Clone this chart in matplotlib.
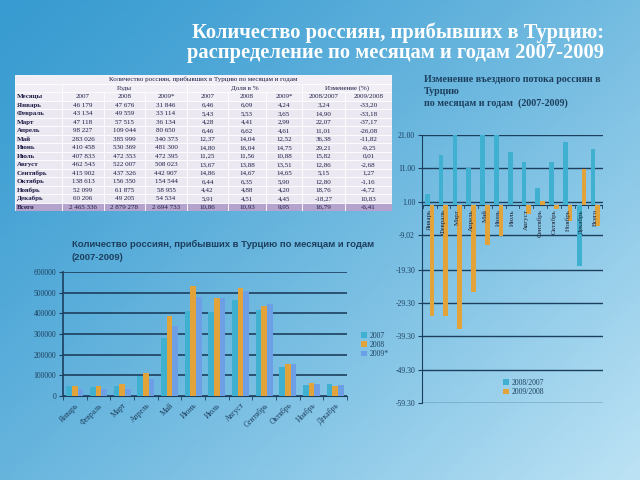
import numpy as np
import matplotlib
matplotlib.use("Agg")
import matplotlib.pyplot as plt
from matplotlib.patches import Rectangle

plt.rcParams['font.family'] = ['Liberation Serif', 'DejaVu Serif']

# --- data ---
months = ['Январь', 'Февраль', 'Март', 'Апрель', 'Май', 'Июнь', 'Июль',
          'Август', 'Сентябрь', 'Октябрь', 'Ноябрь', 'Декабрь']
tourists_2007 = [46179, 43134, 47118, 98227, 283026, 410458, 407833,
                 462543, 415902, 138613, 52099, 60206]
tourists_2008 = [47676, 49559, 57515, 109044, 385999, 530369, 472353,
                 522007, 437326, 156350, 61875, 49205]
tourists_2009 = [31846, 33114, 36134, 80650, 340373, 481300, 472395,
                 508023, 442907, 154544, 58955, 54534]
totals = [2465336, 2879278, 2694733]

share_2007 = [6.46, 5.43, 4.28, 6.46, 12.37, 14.80, 11.25, 13.67, 14.86, 6.44, 4.42, 5.91, 10.86]
share_2008 = [6.09, 5.53, 4.41, 6.62, 14.04, 16.04, 11.56, 13.88, 14.67, 6.35, 4.88, 4.51, 10.93]
share_2009 = [4.24, 3.65, 2.99, 4.61, 12.52, 14.75, 10.88, 13.51, 14.65, 5.90, 4.20, 4.45, 9.95]
change_08_07 = [3.24, 14.90, 22.07, 11.01, 36.38, 29.21, 15.82, 12.86, 5.15, 12.80, 18.76, -18.27, 16.79]
change_09_08 = [-33.20, -33.18, -37.17, -26.08, -11.82, -9.25, 0.01, -2.68, 1.27, -1.16, -4.72, 10.83, -6.41]

change_labels = months + ['Всего']
change_ticks = [21.0, 11.0, 1.0, -9.02, -19.3, -29.3, -39.3, -49.3, -59.3]
change_tick_labels = ['21.00', '11.00', '1.00', '-9.02', '-19.30', '-29.30', '-39.30', '-49.30', '-59.30']

C_TEAL = '#3fb0cf'
C_ORANGE = '#e2a33a'
C_BLUE = '#6c9fe6'
NAVY = '#1d3f5e'

W, H = 640, 480


def box(x0, y0, x1, y1):
    # pixel box (top-left origin) -> figure fraction rect
    return [x0 / W, 1 - y1 / H, (x1 - x0) / W, (y1 - y0) / H]


fig = plt.figure(figsize=(6.4, 4.8), dpi=100)

# slide background gradient
bg = fig.add_axes([0, 0, 1, 1])
gx, gy = np.meshgrid(np.linspace(0, 1, 200), np.linspace(0, 1, 150))
t = np.clip(0.55 * gx + 0.45 * gy, 0, 1) ** 1.3
c0 = np.array([0.22, 0.61, 0.82])
c1 = np.array([0.74, 0.89, 0.96])
img = c0[None, None, :] * (1 - t[..., None]) + c1[None, None, :] * t[..., None]
bg.imshow(img, extent=[0, 1, 0, 1], aspect='auto', origin='upper')
bg.set_xlim(0, 1)
bg.set_ylim(0, 1)
bg.axis('off')

# slide title
fig.text(604 / W, 1 - 33 / H, 'Количество россиян, прибывших в Турцию:',
         ha='right', va='center', color='white', fontsize=14.8, fontweight='bold')
fig.text(604 / W, 1 - 53 / H, 'распределение по месяцам и годам 2007-2009',
         ha='right', va='center', color='white', fontsize=14.8, fontweight='bold')

# --- table ---
tab = fig.add_axes(box(15, 75, 392, 211))
col_edges = [15, 62, 104, 145, 187, 228, 266, 302, 345, 392]
n_rows = 16
tab.set_xlim(col_edges[0], col_edges[-1])
tab.set_ylim(n_rows, 0)
tab.axis('off')
txt_c = '#1c1c44'
fs = 5


def cell(c0, c1, r, text, bold=False, align='center', fc='#ebe8f1'):
    x0, x1 = col_edges[c0], col_edges[c1]
    tab.add_patch(Rectangle((x0, r), x1 - x0, 1, facecolor=fc, edgecolor='white', lw=0.6))
    if align == 'left':
        tab.text(x0 + 2, r + 0.55, text, ha='left', va='center', fontsize=fs,
                 color=txt_c, fontweight='bold' if bold else 'normal')
    else:
        tab.text((x0 + x1) / 2, r + 0.55, text, ha='center', va='center', fontsize=fs,
                 color=txt_c, fontweight='bold' if bold else 'normal')


def fmt_int(v):
    return f'{v:,}'.replace(',', ' ')


def fmt_pct(v):
    return f'{v:.2f}'.replace('.', ',')


cell(0, 9, 0, 'Количество россиян, прибывших в Турцию по месяцам и годам', fc='#f1eff5')
cell(0, 1, 1, '', fc='#f1eff5')
cell(1, 4, 1, 'Годы', fc='#f1eff5')
cell(4, 7, 1, 'Доля в %', fc='#f1eff5')
cell(7, 9, 1, 'Изменение (%)', fc='#f1eff5')
headers = ['Месяцы', '2007', '2008', '2009*', '2007', '2008', '2009*', '2008/2007', '2009/2008']
for j, h in enumerate(headers):
    cell(j, j + 1, 2, h, bold=(j == 0), align='left' if j == 0 else 'center', fc='#f1eff5')

for i, m in enumerate(months):
    r = 3 + i
    row = [fmt_int(tourists_2007[i]), fmt_int(tourists_2008[i]), fmt_int(tourists_2009[i]),
           fmt_pct(share_2007[i]), fmt_pct(share_2008[i]), fmt_pct(share_2009[i]),
           fmt_pct(change_08_07[i]), fmt_pct(change_09_08[i])]
    cell(0, 1, r, m, bold=True, align='left')
    for j, v in enumerate(row):
        cell(j + 1, j + 2, r, v)

r = 15
tot_row = [fmt_int(totals[0]), fmt_int(totals[1]), fmt_int(totals[2]),
           fmt_pct(share_2007[12]), fmt_pct(share_2008[12]), fmt_pct(share_2009[12]),
           fmt_pct(change_08_07[12]), fmt_pct(change_09_08[12])]
cell(0, 1, r, 'Всего', bold=True, align='left', fc='#b4a3cd')
for j, v in enumerate(tot_row):
    cell(j + 1, j + 2, r, v, fc='#b4a3cd')

# --- bar chart of tourists by month ---
ax = fig.add_axes(box(63, 272, 347, 396))
ax.patch.set_alpha(0)
x = np.arange(len(months))
bw = 0.24
ax.bar(x - bw, tourists_2007, bw, color=C_TEAL, label='2007', zorder=3)
ax.bar(x, tourists_2008, bw, color=C_ORANGE, label='2008', zorder=3)
ax.bar(x + bw, tourists_2009, bw, color=C_BLUE, label='2009*', zorder=3)
ax.set_ylim(0, 600000)
ax.set_xlim(-0.5, len(months) - 0.5)
ax.set_yticks(np.arange(0, 600001, 100000))
ax.set_yticklabels([str(v) for v in range(0, 600001, 100000)], fontsize=5.5, color=NAVY)
ax.yaxis.grid(True, color=NAVY, lw=1.2, zorder=0)
ax.set_xticks(x)
ax.set_xticklabels(months, rotation=45, ha='right', rotation_mode='anchor',
                   fontsize=5.5, color=NAVY)
ax.set_xticks(np.arange(-0.5, len(months), 1), minor=True)
ax.tick_params(axis='x', which='major', length=0, pad=4)
ax.tick_params(axis='x', which='minor', length=3, color=NAVY, direction='out')
ax.tick_params(axis='y', length=3, color=NAVY, pad=2)
for s in ['top', 'right']:
    ax.spines[s].set_visible(False)
ax.spines['left'].set_color(NAVY)
ax.spines['bottom'].set_color(NAVY)
ax.spines['left'].set_linewidth(1.2)
fig.text(72 / W, 1 - 244 / H, 'Количество россиян, прибывших в Турцию по месяцам и годам',
         ha='left', va='center', fontsize=6.8, fontweight='bold', color=NAVY,
         family=['Liberation Sans', 'DejaVu Sans'])
fig.text(72 / W, 1 - 257 / H, '(2007-2009)', ha='left', va='center', fontsize=6.8,
         fontweight='bold', color=NAVY, family=['Liberation Sans', 'DejaVu Sans'])
fig.legend(*ax.get_legend_handles_labels(), loc='center left',
           bbox_to_anchor=(354 / W, 1 - 345 / H), frameon=False, fontsize=5.5,
           handlelength=0.8, handleheight=0.8, handletextpad=0.3, labelspacing=0.15,
           labelcolor=NAVY)

# --- change chart ---
ax2 = fig.add_axes(box(422, 135, 603, 403))
ax2.patch.set_alpha(0)
x2 = np.arange(len(change_labels))
bw2 = 0.34
ax2.bar(x2 - bw2 / 2, change_08_07, bw2, color=C_TEAL, label='2008/2007', zorder=3)
ax2.bar(x2 + bw2 / 2, change_09_08, bw2, color=C_ORANGE, label='2009/2008', zorder=3)
ax2.set_ylim(-59.3, 21.0)
ax2.set_xlim(-0.55, len(change_labels) - 0.45)
ax2.set_yticks(change_ticks)
ax2.set_yticklabels(change_tick_labels, fontsize=5.5, color=NAVY)
ax2.yaxis.grid(True, color=NAVY, lw=1.0, zorder=0)
ax2.tick_params(axis='y', length=3, color=NAVY, pad=2)
ax2.set_xticks([])
for s in ['top', 'right', 'bottom']:
    ax2.spines[s].set_visible(False)
ax2.spines['left'].set_color(NAVY)
ax2.axhline(0, color=NAVY, lw=0.8, zorder=2)
for xi, lab in zip(x2, change_labels):
    ax2.text(xi, -1.2, lab, rotation=90, ha='center', va='top', fontsize=5,
             color='#222233', zorder=4)
for xi in np.arange(-0.5, len(change_labels), 1):
    ax2.plot([xi, xi], [0, -0.8], color=NAVY, lw=0.6, zorder=4)
ax2.legend(loc='lower left', bbox_to_anchor=(0.41, 0.0), frameon=False, fontsize=5.5,
           handlelength=0.8, handleheight=0.8, handletextpad=0.3, labelspacing=0.15,
           labelcolor=NAVY)
fig.text(424 / W, 1 - 80 / H, 'Изменение въездного потока россиян в', ha='left',
         va='center', fontsize=7.2, fontweight='bold', color=NAVY)
fig.text(424 / W, 1 - 91 / H, 'Турцию', ha='left', va='center', fontsize=7.2,
         fontweight='bold', color=NAVY)
fig.text(424 / W, 1 - 103 / H, 'по месяцам и годам  (2007-2009)', ha='left',
         va='center', fontsize=7.2, fontweight='bold', color=NAVY)

fig.savefig('out.png', dpi=100)
